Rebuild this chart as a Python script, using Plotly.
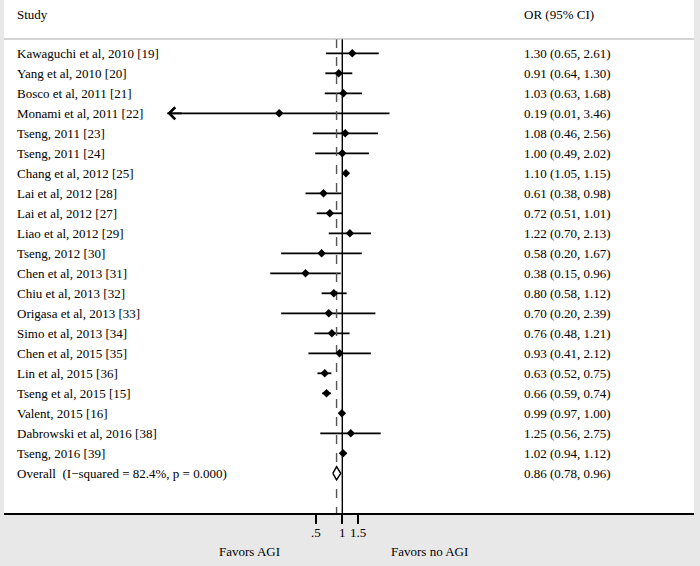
import numpy as np
import plotly.graph_objects as go

studies = ["Kawaguchi et al, 2010 [19]", "Yang et al, 2010 [20]", "Bosco et al, 2011 [21]",
           "Monami et al, 2011 [22]", "Tseng, 2011 [23]", "Tseng, 2011 [24]",
           "Chang et al, 2012 [25]", "Lai et al, 2012 [28]", "Lai et al, 2012 [27]",
           "Liao et al, 2012 [29]", "Tseng, 2012 [30]", "Chen et al, 2013 [31]",
           "Chiu et al, 2013 [32]", "Origasa et al, 2013 [33]", "Simo et al, 2013 [34]",
           "Chen et al, 2015 [35]", "Lin et al, 2015 [36]", "Tseng et al, 2015 [15]",
           "Valent, 2015 [16]", "Dabrowski et al, 2016 [38]", "Tseng, 2016 [39]"]
or_est = [1.30, 0.91, 1.03, 0.19, 1.08, 1.00, 1.10, 0.61, 0.72, 1.22, 0.58, 0.38, 0.80,
          0.70, 0.76, 0.93, 0.63, 0.66, 0.99, 1.25, 1.02]
ci_low = [0.65, 0.64, 0.63, 0.01, 0.46, 0.49, 1.05, 0.38, 0.51, 0.70, 0.20, 0.15, 0.58,
          0.20, 0.48, 0.41, 0.52, 0.59, 0.97, 0.56, 0.94]
ci_high = [2.61, 1.30, 1.68, 3.46, 2.56, 2.02, 1.15, 0.98, 1.01, 2.13, 1.67, 0.96, 1.12,
           2.39, 1.21, 2.12, 0.75, 0.74, 1.00, 2.75, 1.12]
overall_label = "Overall  (I\u2212squared = 82.4%, p = 0.000)"
overall = [0.86, 0.78, 0.96]
tick_vals = [0.5, 1, 1.5]
tick_text = [".5", "1", "1.5"]
arrow_rows = [3]  # CI lower bound truncated with an arrow

FONT = "Liberation Serif"
n = len(studies)
rows = list(range(n))
overall_row = n

# layout geometry (pixels)
W, H = 700, 566
L, R, T, B = 4, 6, 0, 53
plot_h = H - T - B
row0_px, row_step = 53.3, 20.0
y_top = -row0_px / row_step
y_bot = (plot_h - row0_px) / row_step
px_per_ln = 38.0
x_one_px = 342.3 - L
plot_w = W - L - R
x_lo = -x_one_px / px_per_ln / np.log(10)
x_hi = (plot_w - x_one_px) / px_per_ln / np.log(10)

fig = go.Figure()

for i in rows:
    fig.add_trace(go.Scatter(x=[ci_low[i], ci_high[i]], y=[i, i], mode="lines",
                             line=dict(color="black", width=1.8), showlegend=False,
                             hoverinfo="skip"))

line_top = (39 - row0_px) / row_step
fig.add_trace(go.Scatter(x=[1, 1], y=[line_top, y_bot], mode="lines",
                         line=dict(color="black", width=1.4), showlegend=False))
fig.add_trace(go.Scatter(x=[overall[0], overall[0]], y=[line_top, y_bot], mode="lines",
                         line=dict(color="#555", width=1.4, dash="dash"), showlegend=False))

fig.add_trace(go.Scatter(x=or_est, y=rows, mode="markers",
                         marker=dict(symbol="diamond", size=6.5, color="black"),
                         showlegend=False))

hh = 0.33
fig.add_trace(go.Scatter(x=[overall[1], overall[0], overall[2], overall[0], overall[1]],
                         y=[overall_row, overall_row - hh, overall_row, overall_row + hh, overall_row],
                         mode="lines", fill="toself", fillcolor="white",
                         line=dict(color="black", width=1.5), showlegend=False))

annotations = []
for i in arrow_rows:
    annotations.append(dict(x=np.log10(ci_low[i]), y=i, xref="x", yref="y", text="",
                            showarrow=True, ax=16, ay=0, arrowhead=4, arrowsize=1.3,
                            arrowwidth=1.8, arrowcolor="black"))

lab_x = (14.5 - L) / plot_w
or_x = (522 - L) / plot_w
fs = 13
tf = dict(family=FONT, size=fs, color="black")
annotations.append(dict(x=lab_x, y=(14 - row0_px) / row_step, xref="paper", yref="y",
                        text="Study", showarrow=False, xanchor="left", font=tf))
annotations.append(dict(x=or_x, y=(14 - row0_px) / row_step, xref="paper", yref="y",
                        text="OR (95% CI)", showarrow=False, xanchor="left", font=tf))
for i in rows:
    annotations.append(dict(x=lab_x, y=i, xref="paper", yref="y", text=studies[i],
                            showarrow=False, xanchor="left", font=tf))
    annotations.append(dict(x=or_x, y=i, xref="paper", yref="y",
                            text=f"{or_est[i]:.2f} ({ci_low[i]:.2f}, {ci_high[i]:.2f})",
                            showarrow=False, xanchor="left", font=tf))
annotations.append(dict(x=lab_x, y=overall_row, xref="paper", yref="y", text=overall_label,
                        showarrow=False, xanchor="left", font=tf))
annotations.append(dict(x=or_x, y=overall_row, xref="paper", yref="y",
                        text=f"{overall[0]:.2f} ({overall[1]:.2f}, {overall[2]:.2f})",
                        showarrow=False, xanchor="left", font=tf))
# tick labels
tick_y = (plot_h - 532.5) / plot_h
for v, t in zip(tick_vals, tick_text):
    annotations.append(dict(x=np.log10(v), y=tick_y, xref="x", yref="paper", text=t,
                            showarrow=False, xanchor="center", yanchor="middle", font=tf))
fav_y = (plot_h - 551.5) / plot_h
annotations.append(dict(x=(249 - L) / plot_w, y=fav_y, xref="paper", yref="paper",
                        text="Favors AGI", showarrow=False, xanchor="center", yanchor="middle",
                        font=tf))
annotations.append(dict(x=(429 - L) / plot_w, y=fav_y, xref="paper", yref="paper",
                        text="Favors no AGI", showarrow=False, xanchor="center", yanchor="middle",
                        font=tf))

shapes = [dict(type="line", xref="paper", yref="y", x0=0, x1=1, y0=line_top, y1=line_top,
               line=dict(color="#aaaaaa", width=1))]

fig.update_layout(
    width=W, height=H, margin=dict(l=L, r=R, t=T, b=B),
    paper_bgcolor="#e8e8e8", plot_bgcolor="white",
    annotations=annotations, shapes=shapes,
    xaxis=dict(type="log", range=[x_lo, x_hi], tickvals=tick_vals, showticklabels=False,
               ticks="outside", ticklen=9, tickwidth=1.5, tickcolor="black",
               showline=True, linecolor="black", linewidth=2, showgrid=False,
               zeroline=False),
    yaxis=dict(range=[y_bot, y_top], showticklabels=False, showgrid=False,
               zeroline=False, showline=False, ticks=""),
)

fig.write_html("out.html", config={"displayModeBar": False},
               post_script="document.body.style.margin='0px';")
